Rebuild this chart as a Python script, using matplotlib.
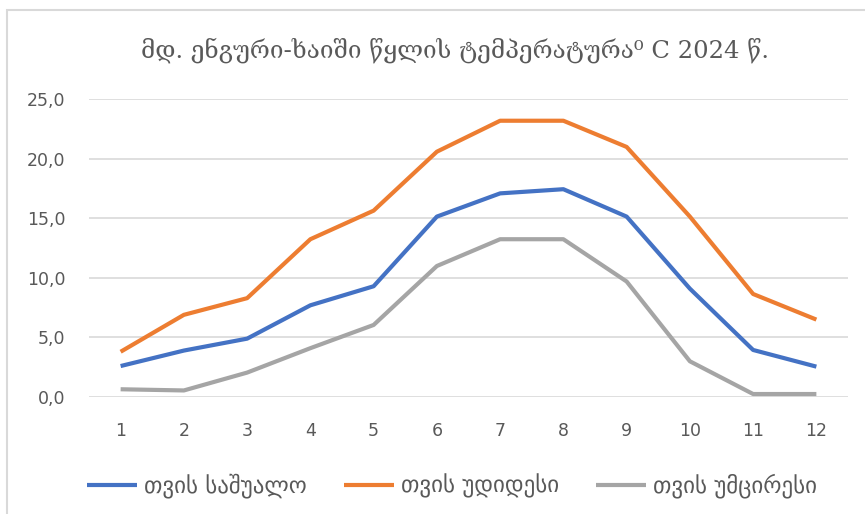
import numpy as np
import matplotlib.pyplot as plt
from matplotlib.patches import Rectangle

# ---------------------------------------------
# data
# ---------------------------------------------
months = [1, 2, 3, 4, 5, 6, 7, 8, 9, 10, 11, 12]
mean_t = [2.6, 3.9, 4.9, 7.7, 9.3, 15.15, 17.1, 17.45, 15.15, 9.1, 3.95, 2.55]
max_t = [3.8, 6.9, 8.3, 13.25, 15.65, 20.6, 23.2, 23.2, 21.0, 15.15, 8.65, 6.5]
min_t = [0.65, 0.55, 2.05, 4.1, 6.05, 11.0, 13.25, 13.25, 9.7, 3.0, 0.25, 0.25]

labels = ["თვის საშუალო", "თვის უდიდესი", "თვის უმცირესი"]
colors = ["#4472C4", "#ED7D31", "#A5A5A5"]
title = "მდ. ენგური-ხაიში წყლის ტემპერატურა⁰ C 2024 წ."

plt.rcParams["font.family"] = ["DejaVu Sans"]

fig = plt.figure(figsize=(8.65, 5.14), dpi=100)
ax = fig.add_axes([89 / 865, 1 - 397 / 514, (848 - 89) / 865, (397 - 99.3) / 514])

# chart frame (light gray border, left and top visible)
fig.patches.append(Rectangle((7 / 865, -0.1), 1.2, 1 - 10 / 514 + 0.1,
                             transform=fig.transFigure, fill=False,
                             edgecolor="#D9D9D9", linewidth=1.5))

for vals, lab, c in zip([mean_t, max_t, min_t], labels, colors):
    ax.plot(months, vals, color=c, linewidth=3, label=lab, solid_capstyle="butt")

ax.set_xlim(0.5, 12.5)
ax.set_ylim(0, 25)
ax.set_yticks(np.arange(0, 26, 5))
ax.set_yticklabels([f"{v:.1f}".replace(".", ",") for v in np.arange(0, 26, 5)])
ax.set_xticks(months)
ax.grid(axis="y", color="#D9D9D9", linewidth=1.2)
ax.set_axisbelow(True)
for s in ax.spines.values():
    s.set_visible(False)
ax.tick_params(length=0, labelsize=12.5, labelcolor="#595959")
ax.tick_params(axis="y", pad=17)
ax.tick_params(axis="x", pad=18)

fig.text(455 / 865, 1 - 50 / 514, title, ha="center", va="center",
         fontsize=17.5, color="#595959", family="DejaVu Serif")

fig.legend(loc="center", bbox_to_anchor=(452 / 865, 1 - 486 / 514), ncol=3,
           frameon=False, fontsize=16.5, handlelength=2.2, columnspacing=1.6,
           handletextpad=0.3, labelcolor="#595959")

fig.savefig("out.png", dpi=100)
